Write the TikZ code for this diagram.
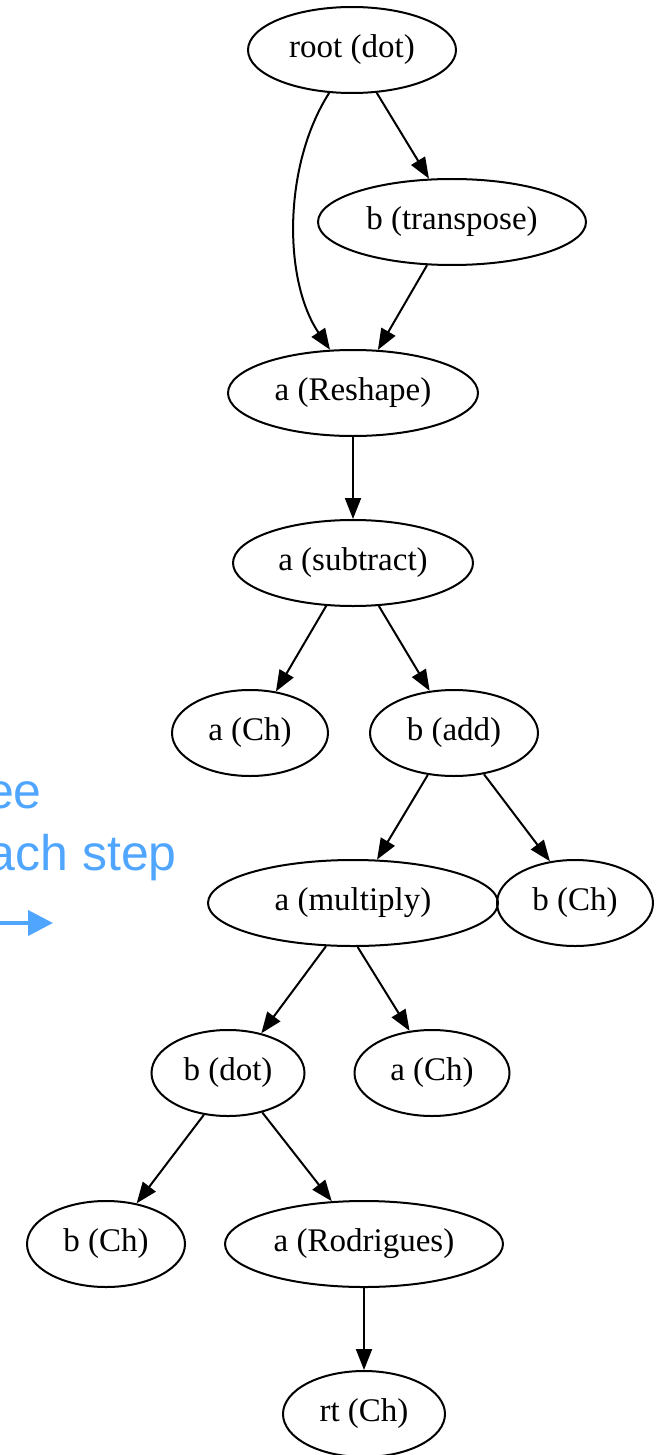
\documentclass[tikz,border=0pt]{standalone}
\usepackage{fontspec}
\setmainfont{Liberation Serif}
\newfontfamily\bluesans{Liberation Sans}
\usetikzlibrary{shapes.geometric,arrows.meta}
\definecolor{slideblue}{RGB}{80,166,255}
\tikzset{
  gnode/.style={ellipse, draw=black, line width=2pt, inner sep=0pt,
    minimum height=86pt, font=\fontsize{33}{40}\selectfont},
  gedge/.style={line width=2pt, -{Triangle[length=21pt,width=16pt]}},
  bluetext/.style={text=slideblue, font=\bluesans\fontsize{50}{60}\selectfont, inner sep=0pt},
}
\begin{document}
\begin{tikzpicture}[x=1pt,y=-1pt]
\useasboundingbox (0,0) rectangle (656,1455);
\clip (0,0) rectangle (656,1455);
% nodes
\node[gnode, minimum width=208pt] (root) at (352,50) {root (dot)};
\node[gnode, minimum width=268pt] (trans) at (452,222) {b (transpose)};
\node[gnode, minimum width=250pt] (reshape) at (353,393) {a (Reshape)};
\node[gnode, minimum width=240pt] (subtract) at (353,563) {a (subtract)};
\node[gnode, minimum width=156pt] (ach1) at (250,733) {a (Ch)};
\node[gnode, minimum width=168pt] (add) at (454,733) {b (add)};
\node[gnode, minimum width=290pt] (multiply) at (353,903) {a (multiply)};
\node[gnode, minimum width=156pt] (bch1) at (575,903) {b (Ch)};
\node[gnode, minimum width=153pt] (bdot) at (228,1073) {b (dot)};
\node[gnode, minimum width=155pt] (ach2) at (432,1073) {a (Ch)};
\node[gnode, minimum width=158pt] (bch2) at (106,1244) {b (Ch)};
\node[gnode, minimum width=278pt] (rod) at (364,1244) {a (Rodrigues)};
\node[gnode, minimum width=162pt] (rt) at (364,1414) {rt (Ch)};
% edges
\draw[gedge] (root.242) .. controls (283,165) and (283,280) .. (reshape.118);
\draw[gedge] (root.300) -- (trans.118.6);
\draw[gedge] (trans.240.8) -- (reshape.60.8);
\draw[gedge] (reshape.south) -- (subtract.north);
\draw[gedge] (subtract.238.8) -- (ach1.58.6);
\draw[gedge] (subtract.301) -- (add.120);
\draw[gedge] (add.238) -- (multiply.61);
\draw[gedge] (add.306) -- (bch1.121);
\draw[gedge] (multiply.238.8) -- (bdot.50);
\draw[gedge] (multiply.276.8) -- (ach2.118);
\draw[gedge] (bdot.240) -- (bch2.53);
\draw[gedge] (bdot.311) -- (rod.127);
\draw[gedge] (rod.south) -- (rt.north);
% cut-off slide text on the left
\node[bluetext, anchor=base east] (t1) at (42,808) {ee};
\node[bluetext, anchor=base east] (t2) at (177,870) {ach step};
\coordinate (arrS) at (-5,923);
\coordinate (arrE) at (53,923);
\draw[slideblue, line width=4pt, -{Triangle[length=25pt,width=25pt]}] (arrS) -- (arrE);
\end{tikzpicture}
\end{document}
